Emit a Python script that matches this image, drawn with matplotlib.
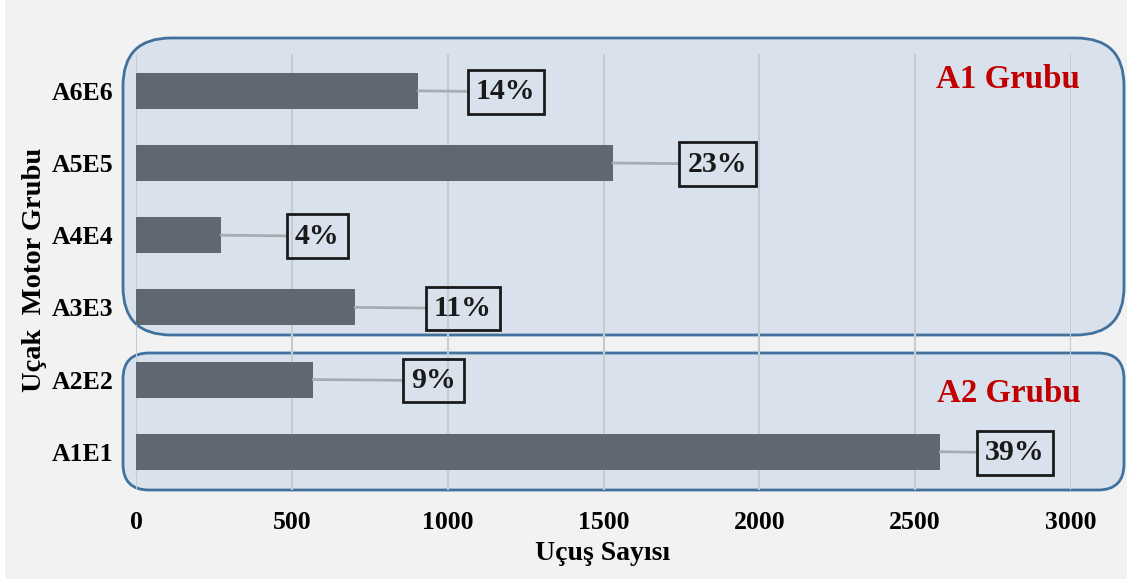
import matplotlib.pyplot as plt
from matplotlib.patches import FancyBboxPatch, Rectangle

# bottom to top
groups = ["A1E1", "A2E2", "A3E3", "A4E4", "A5E5", "A6E6"]
flights = [2580, 568, 703, 273, 1530, 905]
shares = [39, 9, 11, 4, 23, 14]
xticks = [0, 500, 1000, 1500, 2000, 2500, 3000]

# gap in pixels between the bar end and its label box
label_gap = [45, 98, 79, 74, 75, 58]

W, H = 1127, 584
plt.rcParams["font.family"] = ["Liberation Serif", "DejaVu Serif"]
plt.rcParams["font.weight"] = "bold"

fig = plt.figure(figsize=(W / 100, H / 100), dpi=100, facecolor="white")

# light grey panel behind everything
fig.add_artist(Rectangle((5 / 100, 5 / 100), (W - 5) / 100, (H - 5) / 100,
                         transform=fig.dpi_scale_trans, facecolor="#f2f2f2",
                         edgecolor="none", zorder=0.1))

# rounded group frames (inches, measured from bottom-left)
def frame(x0, y0, x1, y1, r):
    p = FancyBboxPatch((x0 / 100, (H - y1) / 100), (x1 - x0) / 100, (y1 - y0) / 100,
                       boxstyle=f"round,pad=0,rounding_size={r / 100}",
                       transform=fig.dpi_scale_trans, facecolor="#d9e2ec",
                       edgecolor="#41719c", linewidth=2, zorder=0.5)
    fig.add_artist(p)

frame(123, 38, 1124, 335, 48)
frame(123, 353, 1124, 490, 26)

ax = fig.add_axes([136 / W, 1 - 490 / H, (1071 - 136) / W, (490 - 54) / H])
ax.set_zorder(1)
ax.patch.set_visible(False)

ypos = list(range(len(groups)))
ax.barh(ypos, flights, height=0.5, color="#5f6872", zorder=3)

for y, v, s, g in zip(ypos, flights, shares, label_gap):
    ax.annotate(f"{s}%", xy=(v, y), xytext=(g, -1), textcoords="offset pixels",
                ha="left", va="center", fontsize=21.5, fontweight="bold", color="#1a1a1a",
                bbox=dict(boxstyle="square,pad=0.28", facecolor="none",
                          edgecolor="#1a1a1a", linewidth=2),
                arrowprops=dict(arrowstyle="-", color="#a6acb2", lw=2,
                                shrinkA=0, shrinkB=0),
                zorder=4)

ax.set_xlim(0, 3000)
ax.set_ylim(-0.53, 5.51)
ax.set_xticks(xticks)
ax.set_yticks(ypos)
ax.set_yticklabels(groups)
ax.tick_params(length=0, labelsize=18.5)
ax.tick_params(axis="y", pad=16)
ax.tick_params(axis="x", pad=15)
for lab in ax.get_xticklabels() + ax.get_yticklabels():
    lab.set_fontweight("bold")
ax.grid(axis="x", color="#c4cbd3", linewidth=1.5, zorder=1)
ax.set_axisbelow(True)
for sp in ax.spines.values():
    sp.set_visible(False)

fig.text(603 / W, 1 - 553 / H, "Uçuş Sayısı", ha="center", va="center",
         fontsize=20, fontweight="bold")
fig.text(35 / W, 1 - 270 / H, "Uçak  Motor Grubu", ha="center", va="center",
         rotation=90, fontsize=20.5, fontweight="bold")

fig.text(1008 / W, 1 - 80 / H, "A1 Grubu", ha="center", va="center",
         fontsize=23.7, fontweight="bold", color="#c00000")
fig.text(1009 / W, 1 - 394 / H, "A2 Grubu", ha="center", va="center",
         fontsize=23.7, fontweight="bold", color="#c00000")

fig.savefig("out.png", dpi=100, facecolor=fig.get_facecolor())
